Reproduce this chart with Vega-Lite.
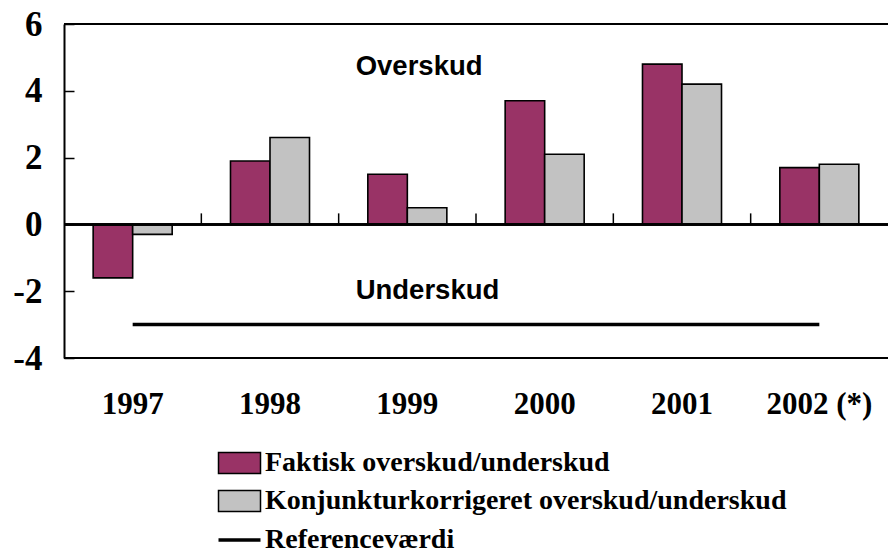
{
  "$schema": "https://vega.github.io/schema/vega-lite/v6.json",
  "width": 824,
  "height": 334,
  "autosize": "none",
  "padding": {"left": 64, "top": 24, "right": 0, "bottom": 200},
  "background": "white",
  "config": {
    "view": {"stroke": null},
    "axisY": {"title": null, "grid": false, "domain": true, "domainColor": "black", "domainWidth": 2,
      "tickSize": -10, "tickColor": "black", "tickWidth": 1.5,
      "labelFont": "Liberation Serif", "labelFontWeight": "bold", "labelFontSize": 35,
      "labelColor": "black", "labelPadding": 32},
    "axisX": {"title": null, "ticks": false, "domain": false, "labelAngle": 0,
      "labelFont": "Liberation Serif", "labelFontWeight": "bold", "labelFontSize": 31,
      "labelColor": "black", "labelPadding": 31},
    "legend": {"labelFont": "Liberation Serif", "labelFontWeight": "bold", "labelFontSize": 28,
      "labelColor": "black", "labelLimit": 1000, "padding": 0, "rowPadding": 10}
  },
  "datasets": {
    "bars": [
      {"year": "1997", "series": "Faktisk overskud/underskud", "value": -1.6},
      {"year": "1997", "series": "Konjunkturkorrigeret overskud/underskud", "value": -0.3},
      {"year": "1998", "series": "Faktisk overskud/underskud", "value": 1.9},
      {"year": "1998", "series": "Konjunkturkorrigeret overskud/underskud", "value": 2.6},
      {"year": "1999", "series": "Faktisk overskud/underskud", "value": 1.5},
      {"year": "1999", "series": "Konjunkturkorrigeret overskud/underskud", "value": 0.5},
      {"year": "2000", "series": "Faktisk overskud/underskud", "value": 3.7},
      {"year": "2000", "series": "Konjunkturkorrigeret overskud/underskud", "value": 2.1},
      {"year": "2001", "series": "Faktisk overskud/underskud", "value": 4.8},
      {"year": "2001", "series": "Konjunkturkorrigeret overskud/underskud", "value": 4.2},
      {"year": "2002 (*)", "series": "Faktisk overskud/underskud", "value": 1.7},
      {"year": "2002 (*)", "series": "Konjunkturkorrigeret overskud/underskud", "value": 1.8}
    ],
    "ticks": [{"year": "1998"}, {"year": "1999"}, {"year": "2000"}, {"year": "2001"}, {"year": "2002 (*)"}],
    "ref": [{"series": "Referenceværdi", "from": "1997", "to": "2002 (*)", "value": -3}],
    "notes": [{"label": "Overskud", "year": "1999", "value": 4.7}, {"label": "Underskud", "year": "1999", "value": -2.0}],
    "frame": [{"v": 6}, {"v": -4}]
  },
  "layer": [
    {
      "data": {"name": "bars"},
      "mark": {"type": "bar", "stroke": "black", "strokeWidth": 1.6},
      "encoding": {
        "x": {
          "field": "year", "type": "nominal",
          "scale": {"paddingInner": 0, "paddingOuter": 0}
        },
        "xOffset": {
          "field": "series", "type": "nominal",
          "sort": ["Faktisk overskud/underskud", "Konjunkturkorrigeret overskud/underskud"],
          "scale": {"paddingInner": 0, "paddingOuter": 0.738}
        },
        "y": {
          "field": "value", "type": "quantitative",
          "scale": {"domain": [-4, 6], "nice": false},
          "axis": {"values": [-4, -2, 0, 2, 4, 6], "labelExpr": "'' + datum.value",
            "labelFont": "Liberation Serif", "labelFontWeight": "bold", "labelFontSize": 35,
            "labelColor": "black", "labelPadding": 32, "tickSize": -10}
        },
        "color": {
          "field": "series", "type": "nominal",
          "scale": {
            "domain": ["Faktisk overskud/underskud", "Konjunkturkorrigeret overskud/underskud"],
            "range": ["#993366", "#c2c2c2"]
          },
          "legend": {
            "title": null, "orient": "none", "legendX": 161.5, "legendY": 425, "direction": "vertical",
            "symbolType": "M-2,-1H2V1H-2Z", "symbolSize": 441, "symbolOffset": 0,
            "symbolStrokeColor": "black", "symbolStrokeWidth": 1.5, "symbolOpacity": 1,
            "labelOffset": 11.5
          }
        }
      }
    },
    {
      "data": {"name": "frame"},
      "mark": {"type": "rule", "color": "black", "strokeWidth": 2.2},
      "encoding": {"y": {"field": "v", "type": "quantitative"}}
    },
    {
      "data": {"name": "bars"},
      "mark": {"type": "rule", "color": "black", "strokeWidth": 1.5},
      "encoding": {"y": {"datum": 0, "type": "quantitative"}}
    },
    {
      "data": {"name": "ticks"},
      "mark": {"type": "rule", "color": "black", "strokeWidth": 1.5},
      "encoding": {
        "x": {"field": "year", "type": "nominal", "bandPosition": 0},
        "y": {"datum": 0, "type": "quantitative"},
        "y2": {"datum": 0.33}
      }
    },
    {
      "data": {"name": "ref"},
      "mark": {"type": "rule", "strokeWidth": 3.5, "color": "black"},
      "encoding": {
        "x": {"field": "from", "type": "nominal"},
        "x2": {"field": "to"},
        "y": {"field": "value", "type": "quantitative"},
        "strokeDash": {
          "field": "series", "type": "nominal",
          "scale": {"domain": ["Referenceværdi"], "range": [[1, 0]]},
          "legend": {
            "title": null, "orient": "none", "legendX": 161.5, "legendY": 502, "direction": "vertical",
            "symbolType": "M-2,0H2", "symbolSize": 441, "symbolOffset": 0,
            "symbolStrokeColor": "black", "symbolStrokeWidth": 3.5, "symbolFillColor": "transparent",
            "symbolOpacity": 1, "labelOffset": 11.5
          }
        }
      }
    },
    {
      "data": {"name": "notes"},
      "mark": {"type": "text", "font": "Liberation Sans", "fontWeight": "bold", "fontSize": 27.5,
        "align": "left", "baseline": "middle", "dx": 17, "color": "black"},
      "encoding": {
        "x": {"field": "year", "type": "nominal", "bandPosition": 0},
        "y": {"field": "value", "type": "quantitative"},
        "text": {"field": "label"}
      }
    }
  ]
}
